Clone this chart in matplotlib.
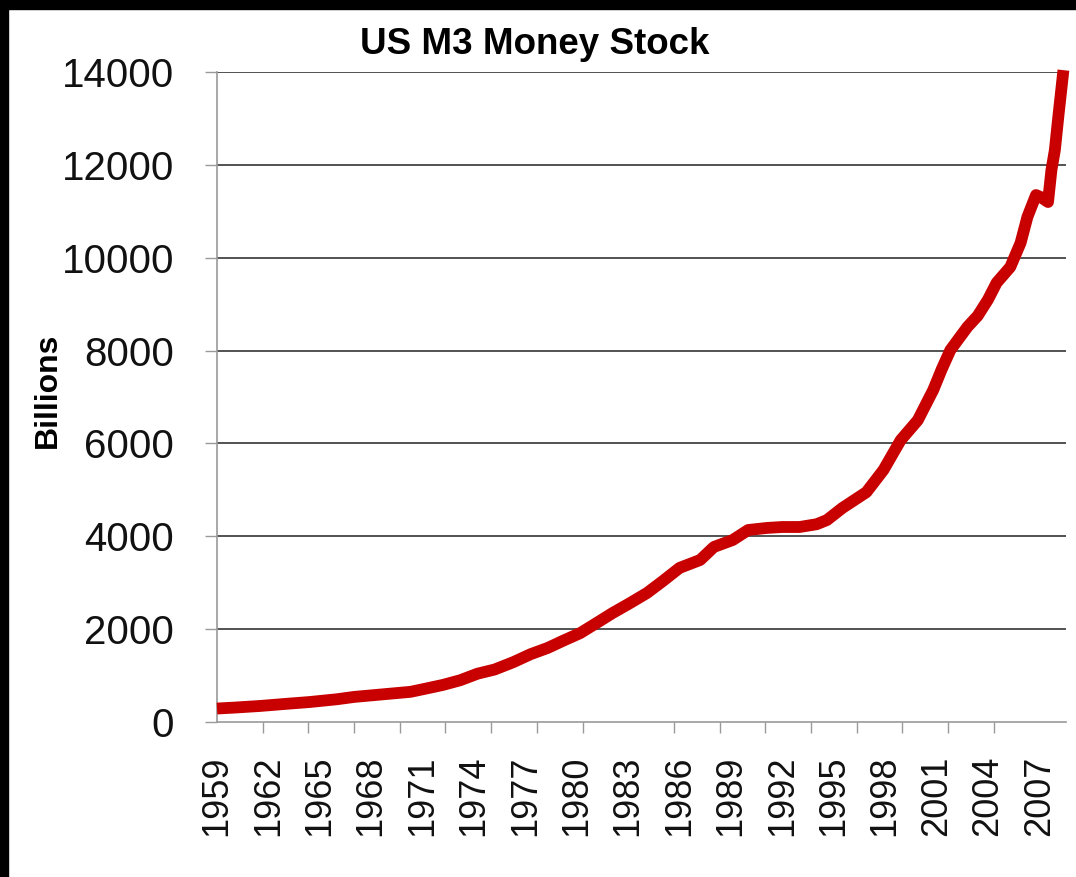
import matplotlib
matplotlib.use("Agg")
import matplotlib.pyplot as plt
from matplotlib.patches import Rectangle
from matplotlib.ticker import FixedLocator, NullFormatter

# M3 money stock, billions
years = [1959.0, 1960.0, 1961.5, 1963.0, 1964.4, 1966.0, 1967.0, 1968.5,
         1970.3, 1971.2, 1972.2, 1973.2, 1974.2, 1975.2, 1976.3, 1977.3,
         1978.3, 1979.2, 1980.2, 1981.1, 1982.1, 1983.1, 1984.1, 1985.0,
         1986.0, 1987.2, 1988.0, 1989.1, 1990.0, 1991.1, 1992.0, 1993.0,
         1994.0, 1994.6, 1995.5, 1996.2, 1996.9, 1997.9, 1998.9, 1999.9,
         2000.8, 2001.3, 2001.8, 2002.8, 2003.4, 2004.0, 2004.5, 2005.3,
         2005.9, 2006.3, 2006.8, 2007.1, 2007.5, 2007.7, 2007.9, 2008.1,
         2008.4]
m3 = [290, 310, 345, 390, 430, 490, 540, 590,
      650, 720, 800, 900, 1040, 1130, 1290, 1460,
      1595, 1750, 1915, 2120, 2350, 2560, 2780, 3030,
      3320, 3490, 3770, 3920, 4135, 4180, 4200, 4200,
      4260, 4350, 4610, 4780, 4950, 5430, 6070, 6500,
      7150, 7600, 8010, 8510, 8750, 9100, 9460, 9800,
      10320, 10880, 11350, 11300, 11200, 11890, 12320, 13030,
      14040]

label_years = list(range(1959, 2008, 3))
tick_years = [1959 + k * 32 / 12 for k in range(19)]   # tick marks every 32 months
y_ticks = list(range(0, 14001, 2000))

W, H = 1076, 877
fig = plt.figure(figsize=(W / 100, H / 100), dpi=100, facecolor="white")
# black frame strips (left and top)
fig.patches.append(Rectangle((0, 0), 8 / W, 1, transform=fig.transFigure,
                             color="black", zorder=0))
fig.patches.append(Rectangle((0, 1 - 9 / H), 1, 9 / H, transform=fig.transFigure,
                             color="black", zorder=0))

ax = fig.add_axes([217 / W, 1 - 722 / H, (1066 - 217) / W, (722 - 72) / H])
ax.set_xlim(1959, 2008.55)
ax.set_ylim(0, 14000)

for v in y_ticks[1:]:
    ax.axhline(v, color="#444444", lw=1.3, zorder=1)

ax.plot(years, m3, color="#c80000", lw=8.5, solid_capstyle="butt",
        solid_joinstyle="round", zorder=3, clip_on=False)

font = "Liberation Sans"
ax.set_yticks(y_ticks)
ax.set_yticklabels([str(v) for v in y_ticks], fontsize=29, family=font, color="#111111")
ax.tick_params(axis="y", direction="out", length=9, width=1, color="#999999", pad=22)

ax.xaxis.set_major_locator(FixedLocator(label_years))
ax.set_xticklabels([str(y) for y in label_years], rotation=90, fontsize=26,
                   family=font, color="#111111")
ax.tick_params(axis="x", which="major", length=0, pad=24)
ax.xaxis.set_minor_locator(FixedLocator(tick_years))
ax.xaxis.set_minor_formatter(NullFormatter())
ax.tick_params(axis="x", which="minor", direction="out", length=8, width=1,
               color="#999999")

for side in ("top", "right"):
    ax.spines[side].set_visible(False)
for side in ("left", "bottom"):
    ax.spines[side].set_color("#999999")
    ax.spines[side].set_linewidth(1.2)

fig.text(535 / W, 1 - 45 / H, "US M3 Money Stock", ha="center", va="center",
         fontsize=26.5, fontweight="bold", family=font)
fig.text(48 / W, 1 - 390 / H, "Billions", ha="center", va="center", rotation=90,
         fontsize=23, fontweight="bold", family=font)

fig.savefig("out.png", dpi=100, facecolor="white")
